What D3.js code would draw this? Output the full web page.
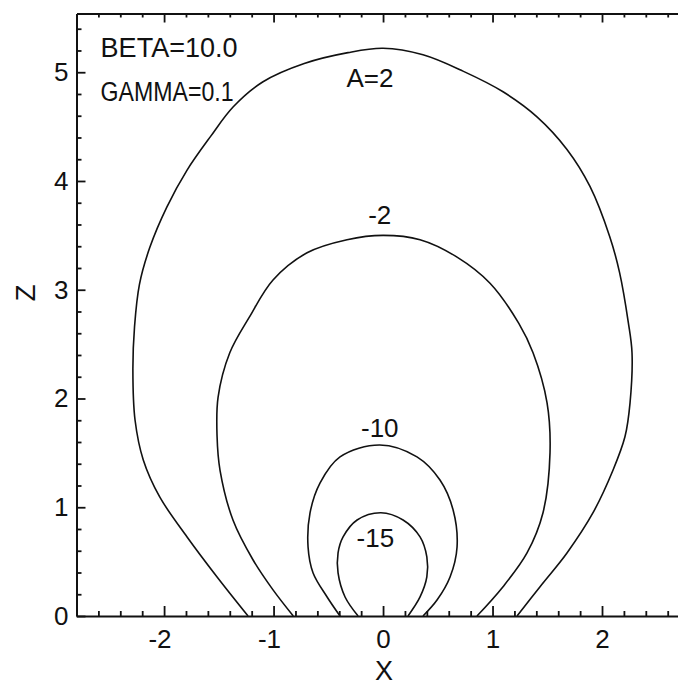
<!DOCTYPE html>
<html>
<head>
<meta charset="utf-8">
<script src="https://cdn.jsdelivr.net/npm/d3@7"></script>
<style>
  html, body { margin: 0; padding: 0; background: #fff; }
  svg { display: block; }
  text { font-family: "Liberation Sans", Arial, sans-serif; fill: #111; }
</style>
</head>
<body>
<svg id="chart" width="678" height="687"></svg>
<script>
// ---- data ----
const xDomain = [-2.8, 2.8];
const zDomain = [0, 5.54];
const xMajorTicks = [-2, -1, 0, 1, 2];
const zMajorTicks = [0, 1, 2, 3, 4, 5];

const contourA2 = [[-1.233,0.0],[-1.516,0.359],[-1.79,0.727],[-2.04,1.095],[-2.19,1.435],[-2.265,1.80],[-2.285,2.26],[-2.27,2.66],[-2.225,3.05],[-2.13,3.39],[-1.975,3.76],[-1.79,4.10],[-1.575,4.41],[-1.37,4.68],[-1.10,4.91],[-0.72,5.08],[-0.32,5.18],[0,5.22],[0.365,5.16],[0.73,5.01],[1.096,4.82],[1.406,4.59],[1.68,4.29],[1.89,3.95],[2.07,3.49],[2.16,3.16],[2.24,2.70],[2.274,2.42],[2.256,1.96],[2.21,1.65],[2.10,1.34],[1.918,0.95],[1.68,0.58],[1.434,0.27],[1.224,0.0]];
const contourM2 = [[-0.82,0.0],[-1.005,0.24],[-1.187,0.515],[-1.37,0.88],[-1.489,1.34],[-1.516,1.65],[-1.507,2.01],[-1.40,2.42],[-1.22,2.75],[-1.005,3.09],[-0.694,3.34],[-0.329,3.46],[0,3.50],[0.338,3.46],[0.676,3.30],[0.977,3.06],[1.24,2.69],[1.37,2.42],[1.498,1.96],[1.525,1.50],[1.461,0.95],[1.315,0.58],[1.096,0.27],[0.858,0.0]];
const contourM10 = [[-0.393,0.0],[-0.511,0.175],[-0.639,0.396],[-0.685,0.635],[-0.667,0.948],[-0.575,1.224],[-0.393,1.463],[-0.03,1.573],[0.31,1.463],[0.52,1.25],[0.64,0.975],[0.676,0.635],[0.612,0.359],[0.493,0.147],[0.365,0.0]];
const contourM15 = [[-0.228,0.0],[-0.347,0.175],[-0.411,0.396],[-0.411,0.58],[-0.365,0.727],[-0.237,0.883],[-0.02,0.95],[0.183,0.883],[0.338,0.727],[0.40,0.543],[0.40,0.359],[0.338,0.175],[0.228,0.0]];
const contours = [contourA2, contourM2, contourM10, contourM15];

const curveLabels = [
  { text: "A=2", x: -0.12, z: 4.86 },
  { text: "-2",  x: -0.03, z: 3.60 },
  { text: "-10", x: -0.03, z: 1.65 },
  { text: "-15", x: -0.07, z: 0.63 }
];
const paramLabels = [
  { text: "BETA=10.0", x: -2.58, z: 5.14, width: 137 },
  { text: "GAMMA=0.1", x: -2.58, z: 4.74, width: 133 }
];
const xTitle = "X";
const zTitle = "Z";

// ---- drawing ----
const svg = d3.select("#chart");
const x = d3.scaleLinear().domain(xDomain).range([76.5, 689.6]);
const z = d3.scaleLinear().domain(zDomain).range([616, 13.5]);

const step = 0.2;
const xMinor = d3.range(Math.round(xDomain[0] / step) + 1, Math.round(xDomain[1] / step))
  .map(i => +(i * step).toFixed(2)).filter(v => Math.abs(v - Math.round(v)) > 1e-6);
const zMinor = d3.range(1, Math.floor(zDomain[1] / step + 1e-6) + 1)
  .map(i => +(i * step).toFixed(2)).filter(v => Math.abs(v - Math.round(v)) > 1e-6 && v < zDomain[1]);

function styleAxis(g) {
  g.selectAll("path.domain").attr("stroke", "#111").attr("stroke-width", 2);
  g.selectAll(".tick line").attr("stroke", "#111").attr("stroke-width", 1.8);
  g.selectAll(".tick text").style("font-size", "26px").attr("fill", "#111");
}

// bottom axis
const gB = svg.append("g").attr("transform", `translate(0,${z(0)})`)
  .call(d3.axisBottom(x).tickValues(xMajorTicks).tickSizeInner(-10).tickSizeOuter(0).tickPadding(14)
        .tickFormat(d => d < 0 ? "-" + Math.abs(d) : String(d)));
styleAxis(gB);
gB.selectAll(".tick text").each(function(d) {
  if (d < 0) d3.select(this).attr("text-anchor", "end").attr("dx", 7);
});
svg.append("g").attr("transform", `translate(0,${z(0)})`)
  .call(d3.axisBottom(x).tickValues(xMinor).tickSizeInner(-5).tickSizeOuter(0).tickFormat(""))
  .call(styleAxis).select("path.domain").remove();

// top axis
const gT = svg.append("g").attr("transform", `translate(0,${z(zDomain[1])})`)
  .call(d3.axisTop(x).tickValues(xMajorTicks).tickSizeInner(-9).tickSizeOuter(0).tickFormat(""));
styleAxis(gT);
svg.append("g").attr("transform", `translate(0,${z(zDomain[1])})`)
  .call(d3.axisTop(x).tickValues(xMinor).tickSizeInner(-4).tickSizeOuter(0).tickFormat(""))
  .call(styleAxis).select("path.domain").remove();

// left axis
const gL = svg.append("g").attr("transform", `translate(${x(xDomain[0])},0)`)
  .call(d3.axisLeft(z).tickValues(zMajorTicks).tickSizeInner(-9).tickSizeOuter(0).tickPadding(8)
        .tickFormat(d3.format("d")));
styleAxis(gL);
svg.append("g").attr("transform", `translate(${x(xDomain[0])},0)`)
  .call(d3.axisLeft(z).tickValues(zMinor).tickSizeInner(-5).tickSizeOuter(0).tickFormat(""))
  .call(styleAxis).select("path.domain").remove();

// contours
const line = d3.line().x(d => x(d[0])).y(d => z(d[1])).curve(d3.curveCatmullRom.alpha(0.5));
svg.append("g").selectAll("path").data(contours).join("path")
  .attr("d", line).attr("fill", "none").attr("stroke", "#111").attr("stroke-width", 1.6);

// curve labels
svg.append("g").selectAll("text").data(curveLabels).join("text")
  .attr("x", d => x(d.x)).attr("y", d => z(d.z)).attr("text-anchor", "middle")
  .style("font-size", "26px").text(d => d.text);

// parameter labels
svg.append("g").selectAll("text").data(paramLabels).join("text")
  .attr("x", d => x(d.x)).attr("y", d => z(d.z)).attr("text-anchor", "start")
  .attr("textLength", d => d.width).attr("lengthAdjust", "spacingAndGlyphs")
  .style("font-size", "27px").text(d => d.text);

// axis titles
svg.append("text").attr("x", 384).attr("y", 680).attr("text-anchor", "middle")
  .style("font-size", "27px").text(xTitle);
svg.append("text").attr("transform", "translate(35,293) rotate(-90)").attr("text-anchor", "middle")
  .style("font-size", "28px").text(zTitle);
</script>
</body>
</html>
